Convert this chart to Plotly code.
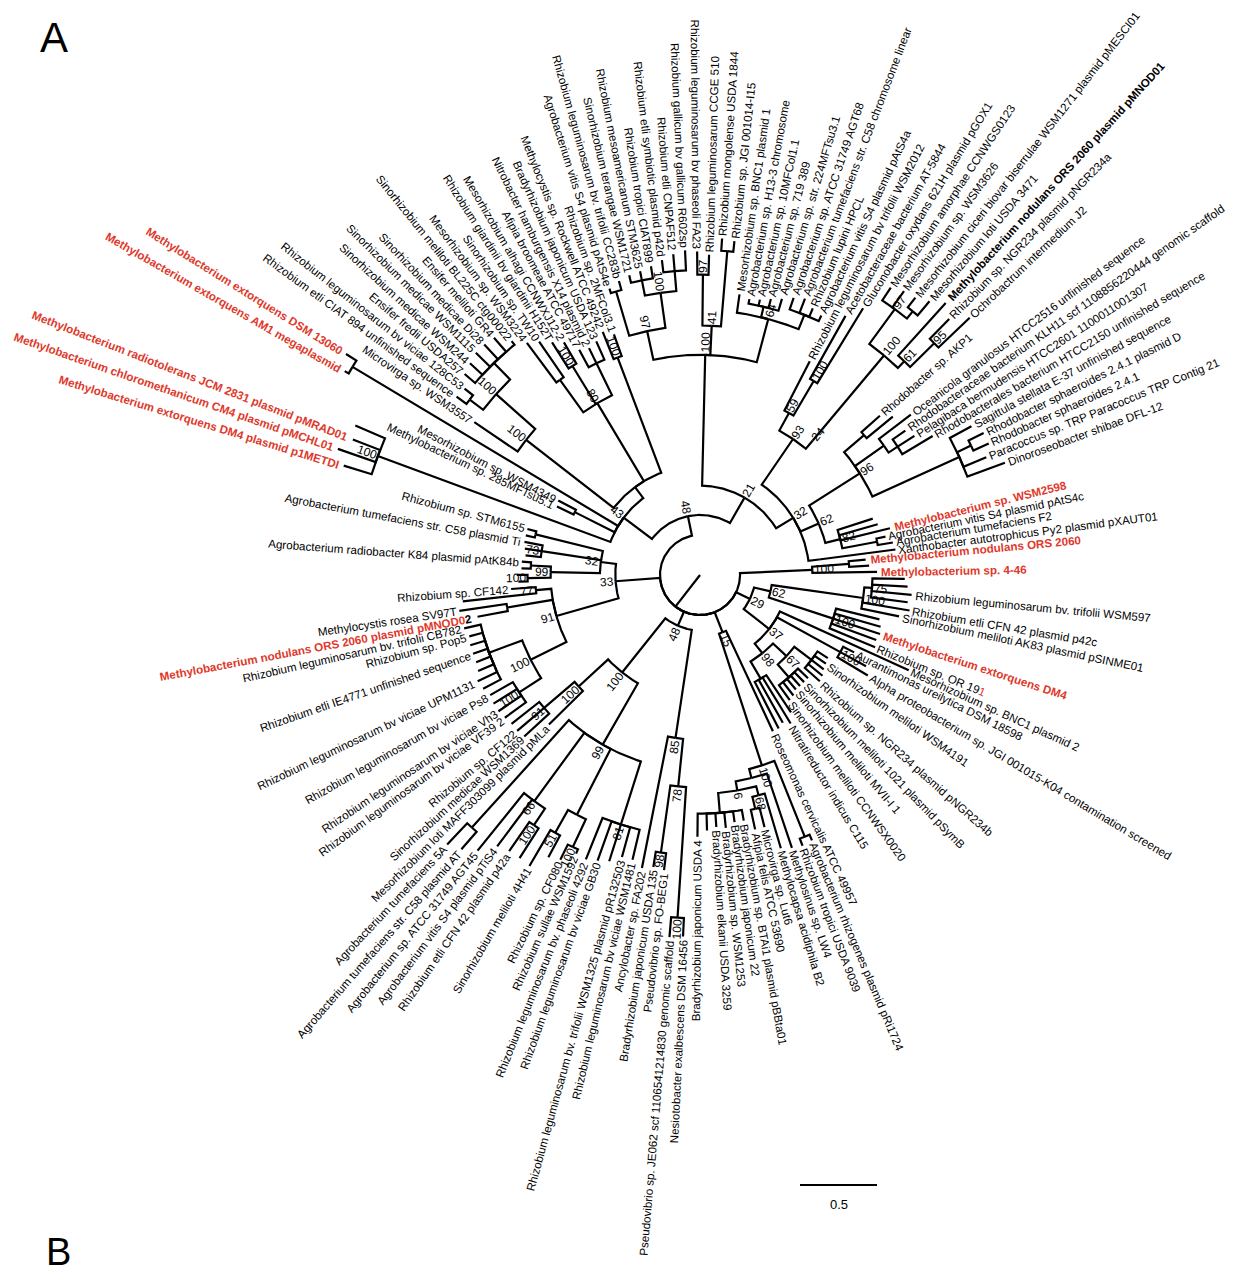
import math
import plotly.graph_objects as go

# ---------------------------------------------------------------- data
# tip labels in clockwise order around the circle ('' = unlabelled tip)
LEAF_NAMES = [
    "Methylobacterium nodulans ORS 2060", "", "Methylobacterium sp. 4-46", "", "",
    "Rhizobium leguminosarum bv. trifolii WSM597", "", "Rhizobium etli CFN 42 plasmid p42c",
    "Sinorhizobium meliloti AK83 plasmid pSINME01", "", "", "Methylobacterium extorquens DM4", "",
    "Rhizobium sp. OR 191", "Mesorhizobium sp. BNC1 plasmid 2", "Aurantimonas ureilytica DSM 18598", "",
    "Alpha proteobacterium sp. JGI 001015-K04 contamination screened", "",
    "Sinorhizobium meliloti WSM4191", "", "", "Rhizobium sp. NGR234 plasmid pNGR234b", "",
    "Sinorhizobium meliloti 1021 plasmid pSymB", "", "Sinorhizobium meliloti MVII-I 1", "",
    "Sinorhizobium meliloti CCNWSX0020", "", "Nitratireductor indicus C115", "", "",
    "Roseomonas cervicalis ATCC 49957", "Agrobacterium rhizogenes plasmid pRi1724",
    "Rhizobium tropici USDA 9039", "Methylosinus sp. LW4", "Methylocapsa acidiphila B2",
    "Microvirga sp. Lut6", "Afipia felis ATCC 53690", "Bradyrhizobium sp. BTAi1 plasmid pBBta01",
    "Bradyrhizobium japonicum 22", "Bradyrhizobium sp. WSM1253", "Bradyrhizobium elkanii USDA 3259", "",
    "Bradyrhizobium japonicum USDA 4", "Nesiotobacter exalbescens DSM 16456",
    "Pseudovibrio sp. JE062 scf 1106541214830 genomic scaffold", "Pseudovibrio sp. FO-BEG1",
    "Bradyrhizobium japonicum USDA 135", "Ancylobacter sp. FA202",
    "Rhizobium leguminosarum bv viciae WSM1481",
    "Rhizobium leguminosarum bv. trifolii WSM1325 plasmid pR132503", "",
    "Rhizobium leguminosarum bv viciae GB30", "Rhizobium leguminosarum bv. phaseoli 4292",
    "Rhizobium sullae WSM1592", "Rhizobium sp. CF080", "", "Sinorhizobium meliloti 4H41", "",
    "Rhizobium etli CFN 42 plasmid p42a", "Agrobacterium vitis S4 plasmid pTiS4",
    "Agrobacterium sp. ATCC 31749 AGT45", "Agrobacterium tumefaciens str. C58 plasmid AT",
    "Agrobacterium tumefaciens 5A", "Mesorhizobium loti MAFF303099 plasmid pMLa",
    "Sinorhizobium medicae WSM1369", "Rhizobium sp. CF122", "",
    "Rhizobium leguminosarum bv viciae VF39 2", "Rhizobium leguminosarum bv viciae Vh3", "",
    "Rhizobium leguminosarum bv viciae Ps8", "", "Rhizobium leguminosarum bv viciae UPM1131", "", "",
    "Rhizobium etli IE4771 unfinished sequence", "", "Rhizobium sp. Pop5",
    "Rhizobium leguminosarum bv. trifolii CB782",
    "Methylobacterium nodulans ORS 2060 plasmid pMNOD02", "Methylocystis rosea SV97T", "",
    "Rhizobium sp. CF142", "", "", "", "Agrobacterium radiobacter K84 plasmid pAtK84b", "", "",
    "Agrobacterium tumefaciens str. C58 plasmid Ti", "", "Rhizobium sp. STM6155",
    "Methylobacterium extorquens DM4 plasmid p1METDI",
    "Methylobacterium chloromethanicum CM4 plasmid pMCHL01",
    "Methylobacterium radiotolerans JCM 2831 plasmid pMRAD01", "",
    "Methylobacterium sp. 285MFTsu5.1", "Mesorhizobium sp. WSM4349",
    "Methylobacterium extorquens AM1 megaplasmid", "Methylobacterium extorquens DSM 13060",
    "Microvirga sp. WSM3557", "Rhizobium etli CIAT 894 unfinished sequence",
    "Rhizobium leguminosarum bv viciae 128C53", "Ensifer fredii USDA257",
    "Sinorhizobium medicae WSM244", "Sinorhizobium medicae WSM1115", "Sinorhizobium medicae Di28",
    "Ensifer meliloti GR4", "Sinorhizobium meliloti BL225C ctg00022", "Mesorhizobium sp. WSM3224",
    "Sinorhizobium sp. TW10", "Rhizobium giardinii bv giardinii H152T",
    "Mesorhizobium alhagi CCNWXJ12-2", "Afipia broomeae ATCC 49717",
    "Nitrobacter hamburgensis X14 plasmid 2", "Bradyrhizobium japonicum USDA 123",
    "Methylocystis sp. Rockwell ATCC 49242", "Rhizobium sp. 2MFCol3.1",
    "Agrobacterium vitis S4 plasmid pAtS4e", "Rhizobium leguminosarum bv. trifolii CC283b",
    "Sinorhizobium terangae WSM1721", "Rhizobium mesoamericanum STM3625", "Rhizobium tropici CIAT899",
    "Rhizobium etli symbiotic plasmid p42d", "Rhizobium etli CNPAF512",
    "Rhizobium gallicum bv gallicum R602sp", "Rhizobium leguminosarum bv phaseoli FA23",
    "Rhizobium leguminosarum CCGE 510", "Rhizobium mongolense USDA 1844",
    "Rhizobium sp. JGI 001014-I15", "Mesorhizobium sp. BNC1 plasmid 1",
    "Agrobacterium sp. H13-3 chromosome", "Agrobacterium sp. 10MFCol1.1", "Agrobacterium sp. 719 389",
    "Agrobacterium sp. str. 224MFTsu3.1", "Agrobacterium sp. ATCC 31749 AGT68",
    "Agrobacterium tumefaciens str. C58 chromosome linear", "Rhizobium lupini HPCL",
    "Agrobacterium vitis S4 plasmid pAtS4a", "Rhizobium leguminosarum bv trifolii WSM2012",
    "Acetobacteraceae bacterium AT-5844", "Gluconobacter oxydans 621H plasmid pGOX1",
    "Mesorhizobium amorphae CCNWGS0123", "Mesorhizobium sp. WSM3626",
    "Mesorhizobium ciceri biovar biserrulae WSM1271 plasmid pMESCI01", "Mesorhizobium loti USDA 3471",
    "Methylobacterium nodulans ORS 2060 plasmid pMNOD01", "Rhizobium sp. NGR234 plasmid pNGR234a",
    "Ochrobactrum intermedium J2", "Rhodobacter sp. AKP1", "",
    "Oceanicola granulosus HTCC2516 unfinished sequence",
    "Rhodobacteraceae bacterium KLH11 scf 1108856220444 genomic scaffold",
    "Pelagibaca bermudensis HTCC2601 1100011001307",
    "Rhodobacterales bacterium HTCC2150 unfinished sequence",
    "Sagittula stellata E-37 unfinished sequence", "Rhodobacter sphaeroides 2.4.1 plasmid D",
    "Rhodobacter sphaeroides 2.4.1", "Paracoccus sp. TRP Paracoccus TRP Contig 21",
    "Dinoroseobacter shibae DFL-12", "", "", "Methylobacterium sp. WSM2598",
    "Agrobacterium vitis S4 plasmid pAtS4c", "Agrobacterium tumefaciens F2",
    "Xanthobacter autotrophicus Py2 plasmid pXAUT01",
]
RED_LEAVES = [0, 2, 11, 82, 95, 96, 97, 101, 102, 165]
BOLD_BLACK_LEAVES = [149]
TAIL_COLOUR = {13: ("1", "red"), 82: ("2", "black")}

# clades: leaf index : distance from root (substitutions/site), node label = bootstrap
CA = "((0:1.08,1:1.10):0.97,2:1.15)100:0.73"

C75 = "(3:1.33,4:1.35,5:1.38,6:1.36)75:1.12"
C100A = f"({C75},7:1.38,8:1.32)100:1.07"
C100B = "(9:1.20,10:1.22,11:1.23,12:1.22,13:1.23)100:0.91"
C62 = f"({C100A},{C100B})62:0.47"
C100C = "(15:1.12,16:1.23,17:1.27)100:1.04"
C67 = ("((18:0.99,19:1.00,20:1.01,21:1.03,22:1.04):0.91,"
       "(23:0.97,24:0.97,25:0.97,26:0.97,27:0.99,28:1.00):0.88)67:0.77")
CNIT = "(29:1.07,30:1.13,31:1.10,32:1.12):0.78"
C98 = f"({C67},{CNIT})98:0.65"
C37 = f"(14:1.49,{C100C},{C98})37:0.57"
CB = f"({C62},{C37})29:0.36"

CAR = "(34:1.87,35:1.88):1.83"
C68 = "(37:1.85,(38:1.69,39:1.69):1.56)68:1.48"
CBR = "(40:1.62,41:1.62,42:1.65,43:1.64,44:1.66,45:1.70):1.55"
C6 = f"({C68},{CBR})6:1.42"
CX6 = f"(36:1.87,{C6}):1.36"
C100D = f"({CAR},{CX6})100:1.30"
CC = f"(33:1.12,{C100D})15:0.40"

C100E = "(46:2.35,47:2.36)100:2.23"
C78 = f"({C100E},(48:1.93,49:1.92)98:1.82)78:1.38"
C85 = f"({C78},50:1.94)85:1.07"
C81 = "(51:1.90,52:1.90,53:1.95,54:1.97,55:1.99)81:1.70"
CCF = "((56:1.98,57:2.06)100:1.95,(58:2.08,59:2.19)51:1.92):1.75"
C66 = "((60:2.18,61:2.18)100:1.95,62:2.20,63:2.30)66:1.82"
CAT = "(64:2.36,65:2.40):2.21"
C99 = f"({C81},{CCF},{C66},{CAT})99:1.27"
C91B = "(67:1.55,68:1.56,69:1.56)91:1.33"
C100K = f"(66:1.38,{C91B})100:1.07"
C100F = f"({C99},{C100K})100:0.81"
CD = f"({C85},{C100F})48:0.36"

C100I = "(70:1.57,71:1.58,72:1.58,73:1.57)100:1.40"
CJ = "(74:1.59,75:1.60,76:1.57,77:1.56,78:1.56,79:1.56,80:1.55,81:1.57):1.46"
C100H = f"({C100I},{CJ})100:1.23"
CPM = "(82:1.47,83:1.58):1.27"
C77 = "(84:1.55,85:1.23)77:1.07"
C91 = f"({C100H},{CPM},{C77})91:0.97"
C99C = "((86:1.18,87:1.19)100:1.12,(88:1.16,89:1.16):1.10)99:0.97"
C73 = "(90:1.14,91:1.15,92:1.16)73:1.04"
CS = "(93:1.16,94:1.16):1.10"
C32 = f"({C99C},{C73},{CS})32:0.65"
CE = f"({C91},{C32})33:0.55"

C100S = "(95:2.42,96:2.49,97:2.42,98:2.44)100:2.23"
CM2 = "(99:1.03,100:1.04):0.91"
CEXT = "(101:2.66,102:2.71):2.63"
C100U = ("(103:1.77,((104:1.96,105:1.95):1.88,"
         "(106:2.01,107:2.03,108:2.05,109:2.05,110:2.04,111:1.95):1.92)100:1.77)100:1.43")
C80 = "((112:1.88,113:1.84):1.56,(114:1.79,115:1.75)100:1.59,(116:1.66,117:1.64,118:1.66):1.53)80:1.30"
C100W = "(119:1.70,120:1.66)100:1.51"
CTL = f"({C100U},{C80},{C100W}):0.71"
C43 = f"({C100S},{CM2},{CEXT},{CTL})43:0.62"

C97A = ("((121:1.95,122:1.98):1.92,((123:2.00,124:2.01,125:2.03):1.95,"
        "(126:2.06,127:2.09,128:2.11):1.98)100:1.85)97:1.62")
C41 = "((129:2.10,130:2.08)97:1.95,(131:2.19,132:2.18):2.11)41:1.62"
C64 = "(133:1.84,(134:1.82,135:1.83,136:1.85,137:1.87):1.79,(138:1.90,139:1.92,140:1.88,141:1.86):1.82)64:1.72"
CTOP = f"({C97A},{C41},{C64})100:1.43"
C59 = "(142:1.56,(143:1.93,144:2.03)100:1.46)59:1.20"
C24 = ("(((145:2.24,146:2.27,(147:2.28,148:2.32):2.20)97:2.14,"
       "(149:2.38,(150:2.32,151:2.42)95:2.14)61:1.92)100:1.86)24:1.14")
C93 = f"({C59},{C24})93:1.07"
C96 = ("((152:1.56,153:1.62):1.40,(154:1.72,(155:1.63,156:1.66,157:1.76):1.53):1.46,"
       "(158:2.01,(159:2.06,160:2.06):1.95,161:2.01,162:2.11):1.85)96:1.23")
C82 = "(163:1.18,164:1.20,165:1.27,(166:1.23,167:1.27):1.17)82:0.94"
C62R = f"({C96},{C82})62:0.84"
CU = "(168:1.28):0.78"
C32R = f"({C93},{C62R},{CU})32:0.71"
C21 = f"({CTOP},{C32R})21:0.58"
CF = f"({C43},{C21})48:0.39"

TREE = f"(({CA},{CB},{CC},{CD},{CE},{CF}):0.26)"
SCALE_BAR_VALUE = 0.5

# ---------------------------------------------------------------- layout constants
W, H = 1239, 1274
CX, CY = 700, 575          # centre of the circular layout (px)
PX_PER_UNIT = 154          # 0.5 subst./site = 77 px
THETA0 = -5.3              # angle of first tip (deg, clockwise from east)
FONT = "Liberation Sans, Arial, Helvetica, sans-serif"
FS = 11.6
RED = "#e0392b"


def parse_newick(s):
    pos = 0

    def token():
        nonlocal pos
        st = pos
        while pos < len(s) and s[pos] not in ",():":
            pos += 1
        return s[st:pos]

    def node():
        nonlocal pos
        if s[pos] == "(":
            pos += 1
            kids = [node()]
            while s[pos] == ",":
                pos += 1
                kids.append(node())
            pos += 1
            n = {"kids": kids, "label": token()}
        else:
            n = {"kids": [], "leaf": int(token())}
        n["depth"] = 0.0
        if pos < len(s) and s[pos] == ":":
            pos += 1
            n["depth"] = float(token())
        return n

    return node()


root = parse_newick(TREE)

tips = []


def collect(n):
    if not n["kids"]:
        tips.append(n)
    for k in n["kids"]:
        collect(k)


collect(root)
STEP = 360.0 / len(tips)
for i, t in enumerate(tips):
    t["theta"] = THETA0 + i * STEP


def set_theta(n):
    if n["kids"]:
        for k in n["kids"]:
            set_theta(k)
        n["theta"] = 0.5 * (n["kids"][0]["theta"] + n["kids"][-1]["theta"])


set_theta(root)


def pol(r_px, th):
    a = math.radians(th)
    return CX + r_px * math.cos(a), CY + r_px * math.sin(a)


xs, ys = [], []


def draw(n):
    r0 = n["depth"] * PX_PER_UNIT
    for k in n["kids"]:
        t0, t1 = n["theta"], k["theta"]
        nseg = max(1, int(abs(t1 - t0) / 0.5))
        for j in range(nseg + 1):
            x, y = pol(r0, t0 + (t1 - t0) * j / nseg)
            xs.append(x)
            ys.append(y)
        x, y = pol(k["depth"] * PX_PER_UNIT, t1)
        xs.append(x)
        ys.append(y)
        xs.append(None)
        ys.append(None)
        draw(k)


draw(root)

# Arial / Liberation Sans advance widths (1/1000 em)
CW = {' ': 278, '.': 278, '-': 333, ',': 278, '(': 333, ')': 333,
      'A': 667, 'B': 667, 'C': 722, 'D': 722, 'E': 667, 'F': 611, 'G': 778, 'H': 722, 'I': 278,
      'J': 500, 'K': 667, 'L': 556, 'M': 833, 'N': 722, 'O': 778, 'P': 667, 'Q': 778, 'R': 722,
      'S': 667, 'T': 611, 'U': 722, 'V': 667, 'W': 944, 'X': 667, 'Y': 667, 'Z': 611,
      'a': 556, 'b': 556, 'c': 500, 'd': 556, 'e': 556, 'f': 278, 'g': 556, 'h': 556, 'i': 222,
      'j': 222, 'k': 500, 'l': 222, 'm': 833, 'n': 556, 'o': 556, 'p': 556, 'q': 556, 'r': 333,
      's': 500, 't': 278, 'u': 556, 'v': 500, 'w': 722, 'x': 500, 'y': 500, 'z': 500}


def text_w(s, size, bold=False):
    w = sum(CW.get(c, 556) for c in s) / 1000.0 * size
    return w * (1.08 if bold else 1.0)


def text_angle(th):
    a = (th + 180) % 360 - 180
    if a > 90:
        a -= 180
    elif a < -90:
        a += 180
    return a


anns = []


def place(text, plain, r_px, th, size, color, bold, gap):
    w = text_w(plain, size, bold)
    x, y = pol(r_px + gap + w / 2.0, th)
    anns.append(dict(x=x, y=y, xref="x", yref="y", text=text, showarrow=False,
                     textangle=text_angle(th), xanchor="center", yanchor="middle",
                     font=dict(family=FONT, size=size, color=color)))


for t in tips:
    idx = t["leaf"]
    name = LEAF_NAMES[idx]
    if not name:
        continue
    red = idx in RED_LEAVES
    bold = red or idx in BOLD_BLACK_LEAVES
    col = RED if red else "black"
    txt = name
    if idx in TAIL_COLOUR:
        tail, tc = TAIL_COLOUR[idx]
        tc = RED if tc == "red" else tc
        txt = name[: -len(tail)] + f"<span style='color:{tc}'>{tail}</span>"
    if bold:
        txt = f"<b>{txt}</b>"
    place(txt, name, t["depth"] * PX_PER_UNIT, t["theta"], FS, col, bold, 3)


def boot(n):
    if n["kids"]:
        if n.get("label"):
            place(n["label"], n["label"], n["depth"] * PX_PER_UNIT, n["theta"], 12, "black", False, 2)
        for k in n["kids"]:
            boot(k)


boot(root)

# panel letters and scale bar
anns.append(dict(x=54, y=37, xref="x", yref="y", text="A", showarrow=False,
                 font=dict(family=FONT, size=42, color="black"), xanchor="center", yanchor="middle"))
anns.append(dict(x=58, y=1252, xref="x", yref="y", text="B", showarrow=False,
                 font=dict(family=FONT, size=38, color="black"), xanchor="center", yanchor="middle"))
SB_X0, SB_Y = 800, 1185
anns.append(dict(x=SB_X0 + SCALE_BAR_VALUE * PX_PER_UNIT / 2, y=SB_Y + 19, xref="x", yref="y",
                 text=str(SCALE_BAR_VALUE), showarrow=False,
                 font=dict(family=FONT, size=13, color="black"), xanchor="center", yanchor="middle"))

fig = go.Figure()
fig.add_trace(go.Scatter(x=xs, y=ys, mode="lines", line=dict(color="black", width=2.2),
                         hoverinfo="skip", showlegend=False))
fig.add_trace(go.Scatter(x=[SB_X0, SB_X0 + SCALE_BAR_VALUE * PX_PER_UNIT], y=[SB_Y, SB_Y],
                         mode="lines", line=dict(color="black", width=2.2),
                         hoverinfo="skip", showlegend=False))
fig.update_layout(width=W, height=H, margin=dict(l=0, r=0, t=0, b=0),
                  paper_bgcolor="white", plot_bgcolor="white",
                  xaxis=dict(range=[0, W], visible=False, fixedrange=True),
                  yaxis=dict(range=[H, 0], visible=False, fixedrange=True),
                  annotations=anns, showlegend=False)
fig.write_html("out.html", config={"displayModeBar": False},
               post_script="document.body.style.margin='0';")
